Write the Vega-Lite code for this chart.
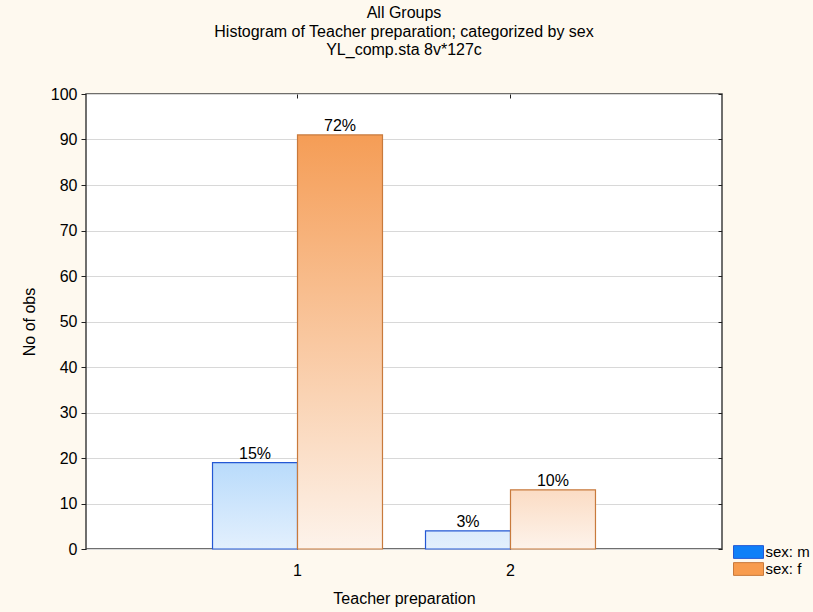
{
  "$schema": "https://vega.github.io/schema/vega-lite/v6.json",
  "width": 636,
  "height": 455,
  "autosize": "none",
  "padding": {"left": 86, "top": 94, "right": 91, "bottom": 63},
  "background": "#FEF9EF",
  "config": {
    "font": "Liberation Sans",
    "view": {"stroke": "#404040", "strokeWidth": 1.5, "fill": "white"},
    "axis": {"labelFont": "Liberation Sans", "titleFont": "Liberation Sans", "labelFontSize": 16, "titleFontSize": 16, "titleFontWeight": "normal", "labelColor": "#000", "titleColor": "#000", "domainColor": "#404040", "tickColor": "#202020"}
  },
  "title": {
    "text": ["All Groups", "Histogram of Teacher preparation; categorized by sex", "YL_comp.sta 8v*127c"],
    "fontSize": 16,
    "fontWeight": "normal",
    "font": "Liberation Sans",
    "color": "#000",
    "lineHeight": 18.5,
    "anchor": "middle",
    "offset": 28
  },
  "data": {
    "values": [
      {"prep": "1", "sex": "m", "count": 19, "label": "15%"},
      {"prep": "1", "sex": "f", "count": 91, "label": "72%"},
      {"prep": "2", "sex": "m", "count": 4, "label": "3%"},
      {"prep": "2", "sex": "f", "count": 13, "label": "10%"}
    ]
  },
  "layer": [
    {
      "mark": {"type": "bar", "strokeWidth": 1.2},
      "encoding": {
        "x": {
          "field": "prep", "type": "nominal",
          "scale": {"paddingInner": 0.202, "paddingOuter": 0.594},
          "axis": {"title": "Teacher preparation", "labelAngle": 0, "tickSize": -4, "labelPadding": 17, "titlePadding": 12, "domain": false, "grid": false}
        },
        "xOffset": {"field": "sex", "type": "nominal", "scale": {"domain": ["m", "f"], "paddingInner": 0, "paddingOuter": 0}},
        "y": {
          "field": "count", "type": "quantitative",
          "scale": {"domain": [0, 100], "nice": false},
          "axis": {"title": "No of obs", "values": [0,10,20,30,40,50,60,70,80,90,100], "tickSize": 5, "labelPadding": 4, "titlePadding": 13, "grid": true, "gridColor": "#D8D8D8", "domain": false}
        },
        "color": {
          "condition": [
            {"test": "datum.sex === 'm' && datum.prep === '1'", "value": {"gradient": "linear", "x1": 0, "y1": 0, "x2": 0, "y2": 1, "stops": [{"offset": 0, "color": "#B9DBFB"}, {"offset": 1, "color": "#E3F0FD"}]}},
            {"test": "datum.sex === 'f' && datum.prep === '1'", "value": {"gradient": "linear", "x1": 0, "y1": 0, "x2": 0, "y2": 1, "stops": [{"offset": 0, "color": "#F59D56"}, {"offset": 1, "color": "#FDF3EB"}]}},
            {"test": "datum.sex === 'm' && datum.prep === '2'", "value": {"gradient": "linear", "x1": 0, "y1": 0, "x2": 0, "y2": 1, "stops": [{"offset": 0, "color": "#DCEBFC"}, {"offset": 1, "color": "#E3F0FD"}]}},
            {"test": "datum.sex === 'f' && datum.prep === '2'", "value": {"gradient": "linear", "x1": 0, "y1": 0, "x2": 0, "y2": 1, "stops": [{"offset": 0, "color": "#FBDCC4"}, {"offset": 1, "color": "#FDF3EB"}]}}
          ],
          "field": "sex", "type": "nominal",
          "scale": {"domain": ["m", "f"], "range": ["#1080F8", "#F89C4E"]},
          "legend": {
            "title": null,
            "orient": "none",
            "legendX": 654.5,
            "legendY": 450,
            "labelExpr": "'sex: ' + datum.label",
            "labelFont": "Liberation Sans",
            "labelFontSize": 15,
            "labelColor": "#000",
            "symbolType": "M-2,-0.85H2V0.85H-2Z",
            "symbolSize": 225,
            "symbolStrokeWidth": 1,
            "symbolOpacity": 1,
            "labelOffset": 9,
            "rowPadding": -2
          }
        },
        "stroke": {
          "field": "sex", "type": "nominal",
          "scale": {"domain": ["m", "f"], "range": ["#2458D4", "#C87A3C"]},
          "legend": {
            "title": null,
            "orient": "none",
            "legendX": 654.5,
            "legendY": 450,
            "labelExpr": "'sex: ' + datum.label",
            "labelFont": "Liberation Sans",
            "labelFontSize": 15,
            "labelColor": "#000",
            "symbolType": "M-2,-0.85H2V0.85H-2Z",
            "symbolSize": 225,
            "symbolStrokeWidth": 1,
            "symbolOpacity": 1,
            "labelOffset": 9,
            "rowPadding": -2
          }
        }
      }
    },
    {
      "mark": {"type": "text", "baseline": "bottom", "dy": -1, "fontSize": 16, "font": "Liberation Sans", "color": "#000"},
      "encoding": {
        "x": {"field": "prep", "type": "nominal", "axis": {"orient": "top", "labels": false, "title": null, "tickSize": -4, "domain": false, "grid": false}},
        "xOffset": {"field": "sex", "type": "nominal"},
        "y": {"field": "count", "type": "quantitative", "axis": {"orient": "right", "labels": false, "title": null, "tickSize": -4, "values": [0,10,20,30,40,50,60,70,80,90,100], "domain": false, "grid": false}},
        "text": {"field": "label", "type": "nominal"}
      }
    }
  ],
  "resolve": {"axis": {"x": "independent", "y": "independent"}}
}
